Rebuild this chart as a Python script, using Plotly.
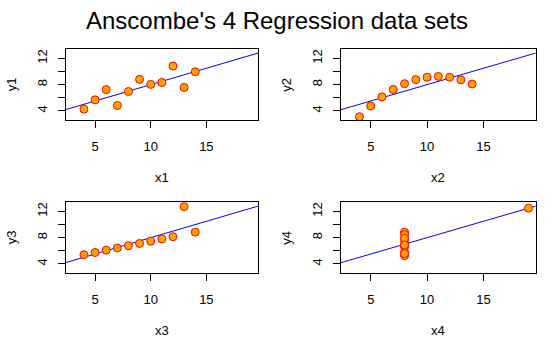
import numpy as np
import plotly.graph_objects as go

# Anscombe's quartet
x1 = [10, 8, 13, 9, 11, 14, 6, 4, 12, 7, 5]
x2 = [10, 8, 13, 9, 11, 14, 6, 4, 12, 7, 5]
x3 = [10, 8, 13, 9, 11, 14, 6, 4, 12, 7, 5]
x4 = [8, 8, 8, 8, 8, 8, 8, 19, 8, 8, 8]
y1 = [8.04, 6.95, 7.58, 8.81, 8.33, 9.96, 7.24, 4.26, 10.84, 4.82, 5.68]
y2 = [9.14, 8.14, 8.74, 8.77, 9.26, 8.10, 6.13, 3.10, 9.13, 7.26, 4.74]
y3 = [7.46, 6.77, 12.74, 7.11, 7.81, 8.84, 6.08, 5.39, 8.15, 6.42, 5.73]
y4 = [6.58, 5.76, 7.71, 8.84, 8.47, 7.04, 5.25, 12.50, 5.56, 7.91, 6.89]

xs = [x1, x2, x3, x4]
ys = [y1, y2, y3, y4]
xnames = ["x1", "x2", "x3", "x4"]
ynames = ["y1", "y2", "y3", "y4"]

x_ticks = [5, 10, 15]
y_ticks = [4, 6, 8, 10, 12]
y_ticktext = ["4", "", "8", "", "12"]

# data limits 3..19 and 3..13, padded 4% each side
xlim = [3 - 0.04 * 16, 19 + 0.04 * 16]
ylim = [3 - 0.04 * 10, 13 + 0.04 * 10]

W, H = 553, 339
col_px = [(65.7, 258.0), (341.0, 535.7)]
row_px = [(49.3, 120.0), (202.3, 273.0)]

FONT = "Liberation Sans, Arial, sans-serif"

fig = go.Figure()
annotations = []

for i in range(4):
    r, c = divmod(i, 2)
    n = "" if i == 0 else str(i + 1)
    xa, ya = "x" + n, "y" + n
    x0p, x1p = col_px[c]
    y0p, y1p = row_px[r]
    xdom = [x0p / W, x1p / W]
    ydom = [1 - y1p / H, 1 - y0p / H]

    axis_common = dict(
        showgrid=False, zeroline=False, showline=True, mirror=True,
        linecolor="black", linewidth=1, ticks="outside", ticklen=7,
        tickwidth=1, tickcolor="black",
        tickfont=dict(family=FONT, size=13, color="black"),
    )
    fig.update_layout(**{
        "xaxis" + n: dict(axis_common, domain=xdom, range=xlim,
                          tickvals=x_ticks, anchor=ya,
                          ticklabelstandoff=7),
        "yaxis" + n: dict(axis_common, domain=ydom, range=ylim,
                          tickvals=y_ticks, ticktext=y_ticktext,
                          tickangle=-90, anchor=xa,
                          ticklabelstandoff=6),
    })

    # least-squares fit line across the whole panel
    b, a = np.polyfit(xs[i], ys[i], 1)
    lx = np.array(xlim)
    fig.add_trace(go.Scatter(
        x=lx, y=a + b * lx, mode="lines", xaxis=xa, yaxis=ya,
        line=dict(color="blue", width=1), hoverinfo="skip",
    ))
    fig.add_trace(go.Scatter(
        x=xs[i], y=ys[i], mode="markers", xaxis=xa, yaxis=ya,
        cliponaxis=False,
        marker=dict(size=8, color="orange", line=dict(color="red", width=1)),
    ))

    annotations.append(dict(
        text=xnames[i], x=(x0p + x1p) / 2 / W, y=1 - (177 + r * 153) / H,
        xref="paper", yref="paper", showarrow=False,
        xanchor="center", yanchor="middle",
        font=dict(family=FONT, size=13, color="black"),
    ))
    annotations.append(dict(
        text=ynames[i], x=(x0p - 54) / W, y=1 - ((y0p + y1p) / 2) / H,
        xref="paper", yref="paper", showarrow=False, textangle=-90,
        xanchor="center", yanchor="middle",
        font=dict(family=FONT, size=13, color="black"),
    ))

annotations.append(dict(
    text="Anscombe's 4 Regression data sets", x=0.5, y=1 - 21 / H,
    xref="paper", yref="paper", showarrow=False,
    xanchor="center", yanchor="middle",
    font=dict(family=FONT, size=24, color="black"),
))

fig.update_layout(
    width=W, height=H, margin=dict(l=0, r=0, t=0, b=0),
    paper_bgcolor="white", plot_bgcolor="white",
    showlegend=False, annotations=annotations,
)

fig.write_html("out.html")
